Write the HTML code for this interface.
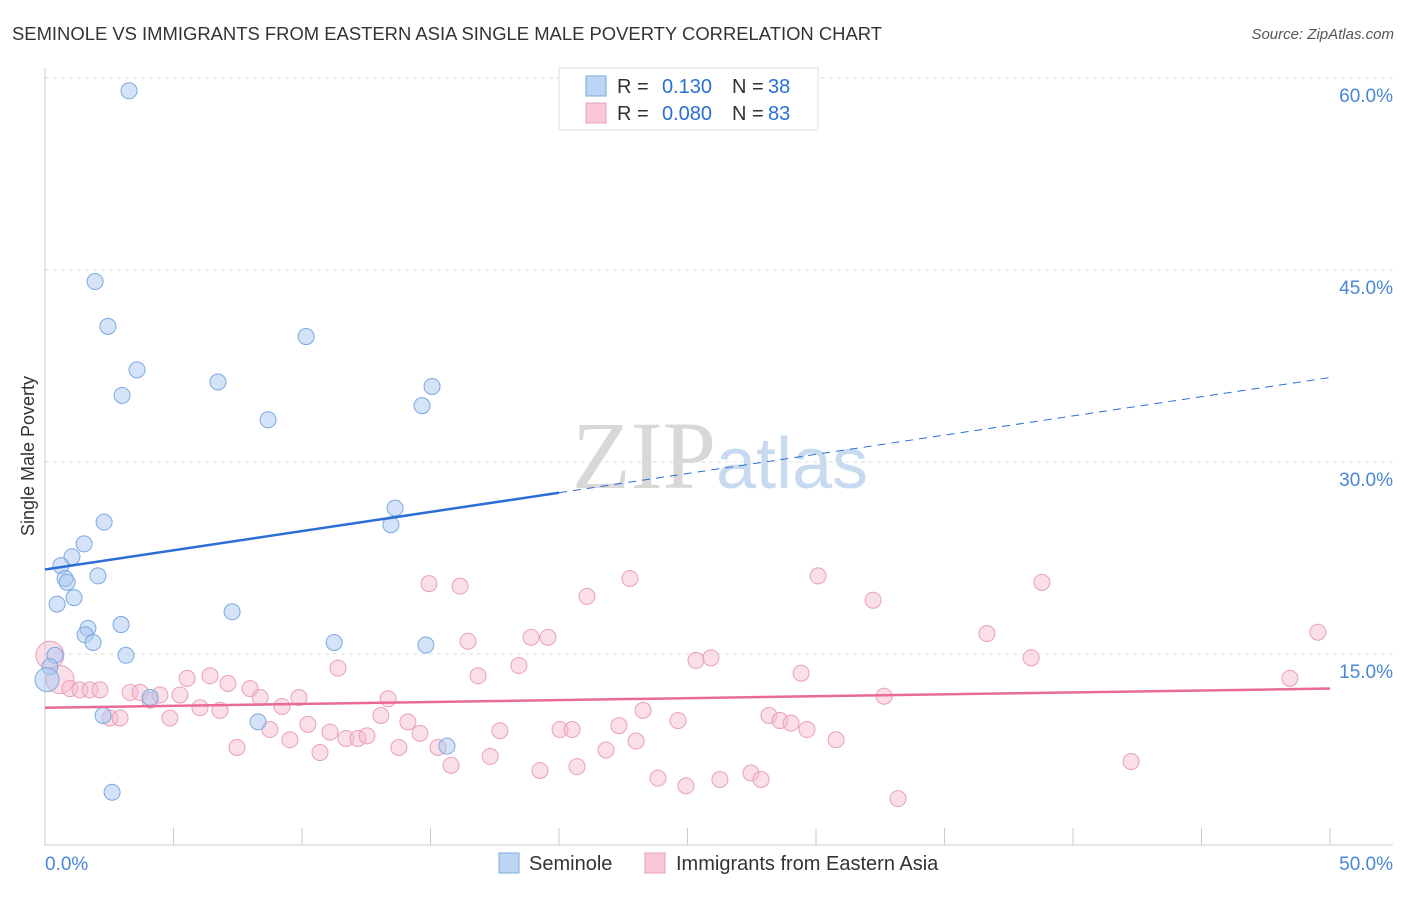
<!DOCTYPE html>
<html><head><meta charset="utf-8"><style>
body{margin:0;background:#fff;font-family:"Liberation Sans",sans-serif;}
</style></head><body>
<svg id="chart" width="1406" height="892" xmlns="http://www.w3.org/2000/svg">
<text x="12" y="40" font-size="18" fill="#333" textLength="870" lengthAdjust="spacingAndGlyphs">SEMINOLE VS IMMIGRANTS FROM EASTERN ASIA SINGLE MALE POVERTY CORRELATION CHART</text>
<text x="1394" y="39" font-size="15" fill="#555" text-anchor="end" font-style="italic">Source: ZipAtlas.com</text>
<text x="720" y="488" font-size="96" fill="#d8d8d8" text-anchor="middle" font-family="Liberation Serif">ZIP<tspan fill="#c8daf0" font-family="Liberation Sans" font-size="72">atlas</tspan></text>
<text transform="translate(34,456) rotate(-90)" font-size="18" fill="#333" text-anchor="middle">Single Male Poverty</text>
<g id="grid"></g><g id="pts"></g><g id="lines"></g>
<g>
<rect x="559" y="68" width="259" height="62" fill="#fff" stroke="#ddd"/>
<rect x="586" y="76" width="20" height="20" fill="#bcd5f5" stroke="#7aaae0"/>
<rect x="586" y="103" width="20" height="20" fill="#f8c8d8" stroke="#e8a0b8"/>
<text x="617" y="93" font-size="20" fill="#333">R =</text>
<text x="712" y="93" font-size="20" fill="#2a6fd6" text-anchor="end">0.130</text>
<text x="732" y="93" font-size="20" fill="#333">N =</text>
<text x="768" y="93" font-size="20" fill="#2a6fd6">38</text>
<text x="617" y="120" font-size="20" fill="#333">R =</text>
<text x="712" y="120" font-size="20" fill="#2a6fd6" text-anchor="end">0.080</text>
<text x="732" y="120" font-size="20" fill="#333">N =</text>
<text x="768" y="120" font-size="20" fill="#2a6fd6">83</text>
</g>
<g>
<rect x="499" y="853" width="20" height="20" fill="#bcd5f5" stroke="#7aaae0"/>
<text x="529" y="870" font-size="20" fill="#333">Seminole</text>
<rect x="645" y="853" width="20" height="20" fill="#f8c8d8" stroke="#e8a0b8"/>
<text x="676" y="870" font-size="20" fill="#333">Immigrants from Eastern Asia</text>
</g>
</svg>
<script>
const yTicks=[15,30,45,60];
const yTickLabels=["15.0%","30.0%","45.0%","60.0%"];
const xTicks=[0,5,10,15,20,25,30,35,40,45,50];
const blueX=[3.27,1.95,2.45,10.16,3.58,6.73,15.06,3.0,14.67,8.68,13.62,2.30,13.46,1.52,1.05,0.62,0.78,2.06,0.86,1.13,0.47,7.28,2.96,1.67,1.56,1.87,11.25,14.82,3.15,0.39,0.19,0.08,4.09,2.26,8.29,15.64,2.61];
const blueY=[59.0,44.1,40.6,39.8,37.2,36.25,35.9,35.2,34.4,33.3,26.4,25.3,25.1,23.6,22.6,21.9,20.9,21.1,20.6,19.4,18.9,18.3,17.3,17.0,16.5,15.9,15.9,15.7,14.9,14.9,14.0,13.0,11.6,10.2,9.7,7.8,4.2];
const pinkX=[0.19,0.58,0.97,1.36,1.75,2.14,2.53,2.92,3.31,3.70,4.09,4.47,4.86,5.25,5.53,6.03,6.42,6.81,7.12,7.47,7.98,8.37,8.75,9.22,9.53,9.88,10.23,10.70,11.09,11.40,11.71,12.18,12.53,13.07,13.35,13.77,14.12,14.59,14.94,15.29,15.80,16.15,16.46,16.85,17.32,17.70,18.44,18.91,19.26,19.57,20.04,20.51,20.70,21.09,21.83,22.33,22.76,23.0,23.27,23.85,24.63,24.94,25.33,25.91,26.26,27.47,27.86,28.17,28.6,29.03,29.42,29.65,30.08,30.78,32.22,32.65,33.19,36.65,38.37,38.79,42.26,48.44,49.53];
const pinkY=[14.9,13.0,12.3,12.2,12.2,12.2,10.0,10.0,12.0,12.0,11.4,11.8,10.0,11.8,13.1,10.8,13.3,10.6,12.7,7.7,12.3,11.6,9.1,10.9,8.3,11.6,9.5,7.3,8.9,13.9,8.4,8.4,8.6,10.2,11.5,7.7,9.7,8.8,20.5,7.7,6.3,20.3,16.0,13.3,7.0,9.0,14.1,16.3,5.9,16.3,9.1,9.1,6.2,19.5,7.5,9.4,20.9,8.2,10.6,5.3,9.8,4.7,14.5,14.7,5.2,5.7,5.2,10.2,9.8,9.6,13.5,9.1,21.1,8.3,19.2,11.7,3.7,16.6,14.7,20.6,6.6,13.1,16.7];
const blueLine=[21.6,36.6];const blueSolidEnd=20;
const pinkLine=[10.8,12.3];
const NS="http://www.w3.org/2000/svg";
const sx=v=>45+v*25.7, sy=v=>846-v*12.8;
function mk(t,a,p){const e=document.createElementNS(NS,t);for(const k in a)e.setAttribute(k,a[k]);p.appendChild(e);return e;}
const grid=document.getElementById('grid');
yTicks.forEach((t,i)=>{
 const l=mk('line',{x1:45,x2:1393,y1:sy(t),y2:sy(t),stroke:'#ddd','stroke-dasharray':'4,4'},grid);
 
 
 const tx=mk('text',{x:1393,y:sy(t)+24,'font-size':19,fill:'#4a86d8','text-anchor':'end'},grid);
 tx.textContent=yTickLabels[i];
 
 
});
mk('line',{x1:45,x2:45,y1:68,y2:846,stroke:'#ccc'},grid);
mk('line',{x1:45,x2:1393,y1:845,y2:845,stroke:'#ccc'},grid);
xTicks.forEach(t=>{
 const l=mk('line',{x1:sx(t),x2:sx(t),y1:828,y2:845,stroke:'#ccc'},grid);
 
 
});
const xl0=mk('text',{x:45,y:870,'font-size':19,fill:'#4a86d8'},grid);xl0.textContent='0.0%';


const xl1=mk('text',{x:1393,y:870,'font-size':19,fill:'#4a86d8','text-anchor':'end'},grid);xl1.textContent='50.0%';


const pts=document.getElementById('pts');
pinkX.forEach((x,i)=>{
 const c=mk('circle',{cx:sx(x),cy:sy(pinkY[i]),r:i<2?14:8,fill:'rgba(246,185,205,0.45)',stroke:'#e8a0b8','stroke-width':1},pts);
 
 
});
blueX.forEach((x,i)=>{
 const c=mk('circle',{cx:sx(x),cy:sy(blueY[i]),r:i==31?12:8,fill:'rgba(170,200,240,0.5)',stroke:'#7aaae0','stroke-width':1},pts);
 
 
});
const ln=document.getElementById('lines');
const by=x=>blueLine[0]+(blueLine[1]-blueLine[0])*x/50;
const b1=mk('line',{x1:sx(0),y1:sy(by(0)),x2:sx(blueSolidEnd),y2:sy(by(blueSolidEnd)),stroke:'#2a6fd6','stroke-width':2.5},ln);


const b2=mk('line',{x1:sx(blueSolidEnd),y1:sy(by(blueSolidEnd)),x2:sx(50),y2:sy(by(50)),stroke:'#2a6fd6','stroke-width':1,'stroke-dasharray':'8,6'},ln);


const p1=mk('line',{x1:sx(0),y1:sy(pinkLine[0]),x2:sx(50),y2:sy(pinkLine[1]),stroke:'#e8699a','stroke-width':2.5},ln);


</script>
</body></html>
